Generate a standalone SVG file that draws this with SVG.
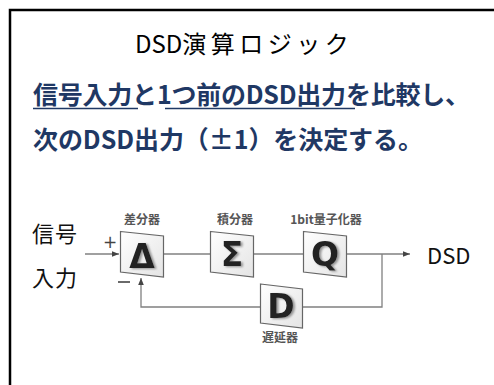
<svg xmlns="http://www.w3.org/2000/svg" width="494" height="385" viewBox="0 0 494 385">
<defs>
<style>
.title{font-family:"Noto Sans CJK JP","Noto Sans",sans-serif;font-size:24px;fill:#000}
.msg{font-family:"Noto Sans CJK JP","Noto Sans",sans-serif;font-size:25px;font-weight:bold;fill:#1f3864}
.lbl{font-family:"Noto Sans CJK JP","Noto Sans",sans-serif;font-size:22px;fill:#111}
.small{font-family:"Noto Sans CJK JP","Noto Sans",sans-serif;font-size:12px;font-weight:bold;fill:#555}
.sym{font-family:"DejaVu Sans",sans-serif;font-weight:bold;font-size:33px;text-anchor:middle;fill:#222;filter:url(#sh)}
.wire{fill:none;stroke:#808080;stroke-width:1.3}
.box{fill:url(#g);stroke:#666;stroke-width:1.2}
.ul{stroke:#1f3864;stroke-width:1.6}
</style>
<linearGradient id="g" x1="0" y1="0" x2="1" y2="1">
<stop offset="0" stop-color="#ffffff"/>
<stop offset="1" stop-color="#e4e4e4"/>
</linearGradient>
<filter id="sh" x="-20%" y="-20%" width="150%" height="150%">
<feDropShadow dx="2" dy="1" stdDeviation="0.8" flood-color="#888" flood-opacity="0.9"/>
</filter>
<marker id="ah" viewBox="0 0 10 10" refX="10" refY="5" markerWidth="7" markerHeight="7" markerUnits="userSpaceOnUse" orient="auto">
<path d="M0,1 L10,5 L0,9 z" fill="#444"/>
</marker>
</defs>
<rect x="10" y="10" width="500" height="400" fill="#fff" stroke="#000" stroke-width="2.5"/>
<text class="title" x="135" y="53">DSD<tspan letter-spacing="4.5">演算ロジック</tspan></text>
<text class="msg" x="33" y="104" textLength="437" lengthAdjust="spacing">信号入力と1つ前のDSD出力を比較し、</text>
<line class="ul" x1="33" y1="108.5" x2="138" y2="108.5"/>
<line class="ul" x1="165" y1="108.5" x2="355" y2="108.5"/>
<text class="msg" x="33" y="149" textLength="390" lengthAdjust="spacing">次のDSD出力（±1）を決定する。</text>
<g id="input-label">
<text class="lbl" x="32" y="242" textLength="45" lengthAdjust="spacing">信号</text>
<text class="lbl" x="32" y="286" textLength="45" lengthAdjust="spacing">入力</text>
</g>
<g id="connectors">
<line class="wire" x1="85" y1="254" x2="119" y2="254" marker-end="url(#ah)"/>
<line class="wire" x1="163" y1="254" x2="210" y2="254"/>
<line class="wire" x1="253" y1="254" x2="303" y2="254"/>
<line class="wire" x1="347" y1="254" x2="410" y2="254" marker-end="url(#ah)"/>
<polyline class="wire" points="382,254 382,307 302,307"/>
<polyline class="wire" points="260,307 141,307 141,278" marker-end="url(#ah)"/>
<text x="103" y="248" font-family="DejaVu Sans,sans-serif" font-size="17" fill="#444">+</text>
<line x1="118" y1="282" x2="130" y2="282" stroke="#444" stroke-width="1.6"/>
</g>
<g id="diff">
<text class="small" x="142" y="224" text-anchor="middle">差分器</text>
<polygon class="box" points="120.5,231.5 163.5,236 163.5,277 120.5,272"/>
<text class="sym" x="142" y="268">Δ</text>
</g>
<g id="integ">
<text class="small" x="235" y="224" text-anchor="middle">積分器</text>
<polygon class="box" points="210.5,231.5 253.5,236 253.5,277 210.5,272"/>
<text class="sym" x="232" y="266">Σ</text>
</g>
<g id="quant">
<text class="small" x="326" y="224" text-anchor="middle">1bit量子化器</text>
<polygon class="box" points="303.5,231.5 346.5,236 346.5,277 303.5,272"/>
<text class="sym" x="325" y="266">Q</text>
</g>
<g id="delay">
<polygon class="box" points="260.5,284 302.5,289 302.5,328 260.5,323"/>
<text class="sym" x="281" y="318">D</text>
<text class="small" x="280" y="342" text-anchor="middle">遅延器</text>
</g>
<g id="output">
<text class="lbl" x="427" y="264" font-size="20">DSD</text>
</g>
</svg>
